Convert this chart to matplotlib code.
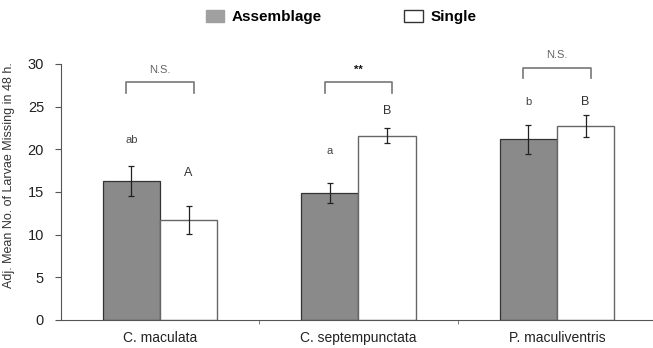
import numpy as np
import matplotlib
matplotlib.use("Agg")
import matplotlib.pyplot as plt
from matplotlib.patches import Patch

# Données
categories = ['C. maculata', 'C. septempunctata', 'P. maculiventris']
assemblage = [16.3, 14.9, 21.2]
assemblage_se = [1.75, 1.2, 1.7]
single = [11.7, 21.6, 22.75]
single_se = [1.65, 0.85, 1.3]

lettres_assemblage = ['ab', 'a', 'b']
lettres_single = ['A', 'B', 'B']
hauteur_assemblage = [21.1, 19.85, 25.5]
hauteur_single = [17.2, 24.5, 25.5]

signif = ['N.S.', '**', 'N.S.']
hauteur_crochet = [27.85, 27.85, 29.55]

plt.rcParams['font.family'] = ['Liberation Sans', 'DejaVu Sans']

fig = plt.figure(figsize=(6.53, 3.48), dpi=100)
ax = fig.add_axes([0.093, 0.0805, 0.907, 0.7356])

x = np.arange(len(categories))
w = 0.288

# Barres
ax.bar(x - w / 2, assemblage, w, color='#8a8a8a', edgecolor='#333333', linewidth=0.9,
       label='Assemblage', zorder=2)
ax.bar(x + w / 2, single, w, color='white', edgecolor='#666666', linewidth=1.0,
       label='Single', zorder=2)

# Barres d'erreur
ax.errorbar(x - w / 2, assemblage, yerr=assemblage_se, fmt='none', ecolor='#222222',
            elinewidth=0.9, capsize=2.5, capthick=0.9, zorder=3)
ax.errorbar(x + w / 2, single, yerr=single_se, fmt='none', ecolor='#222222',
            elinewidth=0.9, capsize=2.5, capthick=0.9, zorder=3)

# Lettres au-dessus des barres
for i in range(len(categories)):
    ax.text(x[i] - w / 2, hauteur_assemblage[i], lettres_assemblage[i], ha='center',
            va='center', fontsize=8, color='#444444')
    ax.text(x[i] + w / 2, hauteur_single[i], lettres_single[i], ha='center',
            va='center', fontsize=9, color='#333333')

# Crochets de significativité
for i in range(len(categories)):
    h = hauteur_crochet[i]
    ax.plot([x[i] - 0.17, x[i] - 0.17, x[i] + 0.17, x[i] + 0.17],
            [h - 1.2, h, h, h - 1.2], color='#777777', lw=1.2, clip_on=False)
    if signif[i] == '**':
        ax.text(x[i], h + 1.45, signif[i], ha='center', va='center', fontsize=8,
                fontweight='bold', color='#111111', clip_on=False)
    else:
        ax.text(x[i], h + 1.45, signif[i], ha='center', va='center', fontsize=8,
                color='#666666', clip_on=False)

# Axes
ax.set_xlim(-0.5, 2.484)
ax.set_ylim(0, 30)
ax.set_yticks([0, 5, 10, 15, 20, 25, 30])
ax.set_xticks(x)
ax.set_xticklabels(categories, fontsize=10, color='#222222')
ax.set_xticks([0.5, 1.5], minor=True)
ax.tick_params(axis='x', which='major', length=0, pad=8)
ax.tick_params(axis='x', which='minor', length=3, color='#666666', direction='out')
ax.tick_params(axis='y', length=4, color='#555555', labelsize=10.5, pad=8,
               labelcolor='#222222')

ax.set_ylabel('Adj. Mean No. of Larvae Missing in 48 h.', fontsize=9, color='#333333')
ax.yaxis.set_label_coords(-0.078, 0.564)

ax.spines['top'].set_visible(False)
ax.spines['right'].set_visible(False)
ax.spines['left'].set_color('#555555')
ax.spines['bottom'].set_color('#555555')

# Légende en haut
handles = [Patch(facecolor='#a0a0a0', edgecolor='#a0a0a0'),
           Patch(facecolor='white', edgecolor='#333333', linewidth=1.0)]
fig.legend(handles, ['Assemblage', 'Single'], loc='center', bbox_to_anchor=(0.522, 0.951),
           ncol=2, frameon=False, handlelength=1.2, handleheight=0.9, handletextpad=0.5,
           columnspacing=5.4, prop={'family': ['Liberation Sans Narrow', 'Liberation Sans'],
                                    'weight': 'bold', 'size': 11})

fig.savefig('out.png', dpi=100)
